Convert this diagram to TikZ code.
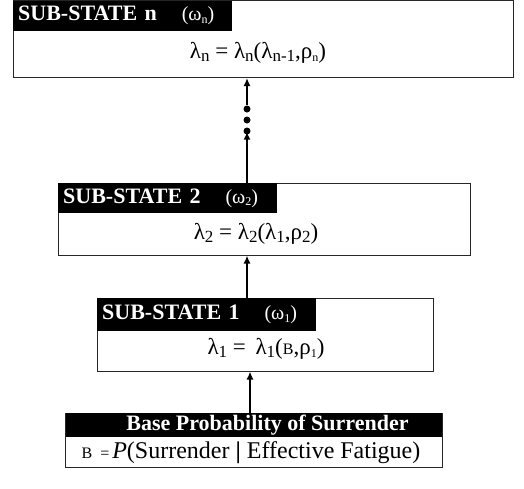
\documentclass[tikz,border=0pt]{standalone}
\usepackage{fontspec}
\setmainfont{Liberation Serif}
\usetikzlibrary{arrows.meta}
\newcommand{\bsb}[1]{\raisebox{-2.5pt}{\fontsize{17}{18}\selectfont #1}}
\newcommand{\tsb}[1]{\raisebox{-2.5pt}{\fontsize{12}{13}\selectfont #1}}
\begin{document}
\begin{tikzpicture}[x=1pt,y=-1pt,
  box/.style={draw=black!85, line width=1pt, fill=white, inner sep=0pt},
  hdr/.style={fill=black, text=white, inner sep=0pt, anchor=north west, align=left, font=\fontsize{22}{24}\selectfont},
  frm/.style={inner sep=0pt, font=\fontsize{23}{25}\selectfont},
  arr/.style={line width=1.6pt, -{Latex[length=8pt,width=7pt]}},
  dot/.style={circle, fill=black, inner sep=0pt, minimum size=7pt}]
\useasboundingbox (0,0) rectangle (524,488);
% box n
\node[box, minimum width=500pt, minimum height=77pt] (bn) at (263,39) {};
\node[hdr, minimum width=219pt, minimum height=30pt, text width=215pt] (hn) at ([xshift=0.5pt,yshift=-0.5pt]bn.north west)
  {\hspace*{3pt}\textbf{SUB-STATE n}\hspace{25pt}{\fontsize{20}{22}\selectfont(ω\tsb{n})}};
\node[frm] (fn) at (258,53) {λ\bsb{n} = λ\bsb{n}(λ\bsb{n-1},ρ\tsb{n})};
% box 2
\node[box, minimum width=412pt, minimum height=72pt] (b2) at (264,219) {};
\node[hdr, minimum width=219pt, minimum height=30pt, text width=215pt] (h2) at ([xshift=0.5pt,yshift=-0.5pt]b2.north west)
  {\hspace*{3pt}\textbf{SUB-STATE 2}\hspace{25pt}{\fontsize{20}{22}\selectfont(ω\tsb{2})}};
\node[frm] (f2) at (256,234) {λ\bsb{2} = λ\bsb{2}(λ\bsb{1},ρ\bsb{2})};
% box 1
\node[box, minimum width=336pt, minimum height=73pt] (b1) at (265,334.5) {};
\node[hdr, minimum width=219pt, minimum height=33pt, text width=215pt] (h1) at ([xshift=0.5pt,yshift=-0.5pt]b1.north west)
  {\hspace*{3pt}\textbf{SUB-STATE 1}\hspace{25pt}{\fontsize{20}{22}\selectfont(ω\tsb{1})}};
\node[frm] (f1) at (266,349) {λ\bsb{1} =\, λ\bsb{1}({\fontsize{16}{18}\selectfont B},ρ\tsb{1})};
% base box
\node[box, minimum width=377pt, minimum height=54pt] (b0) at (253.5,440) {};
\node[hdr, anchor=north, minimum width=376pt, minimum height=24pt, align=center] (h0) at ([yshift=-0.5pt]b0.north)
  {\hspace*{28pt}\textbf{Base Probability of Surrender}};
\node[frm, font=\fontsize{24}{26}\selectfont] (f0) at (251,453) {{\fontsize{16}{18}\selectfont B\hspace{8pt}=}\hspace{3pt}\textit{P}(Surrender \textbf{|} Effective Fatigue)};
% dots
\node[dot] (d1) at (247,109) {};
\node[dot] (d2) at (247,120) {};
\node[dot] (d3) at (247,131) {};
% arrows
\draw[arr] (b0.north -| 250,0) -- (b1.south -| 250,0);
\draw[arr] (b1.north -| 247,0) -- (b2.south -| 247,0);
\draw[arr] (b2.north -| d3) -- ([yshift=3pt]d3.south);
\draw[arr] (d1.north) -- (bn.south -| d1);
\end{tikzpicture}
\end{document}
